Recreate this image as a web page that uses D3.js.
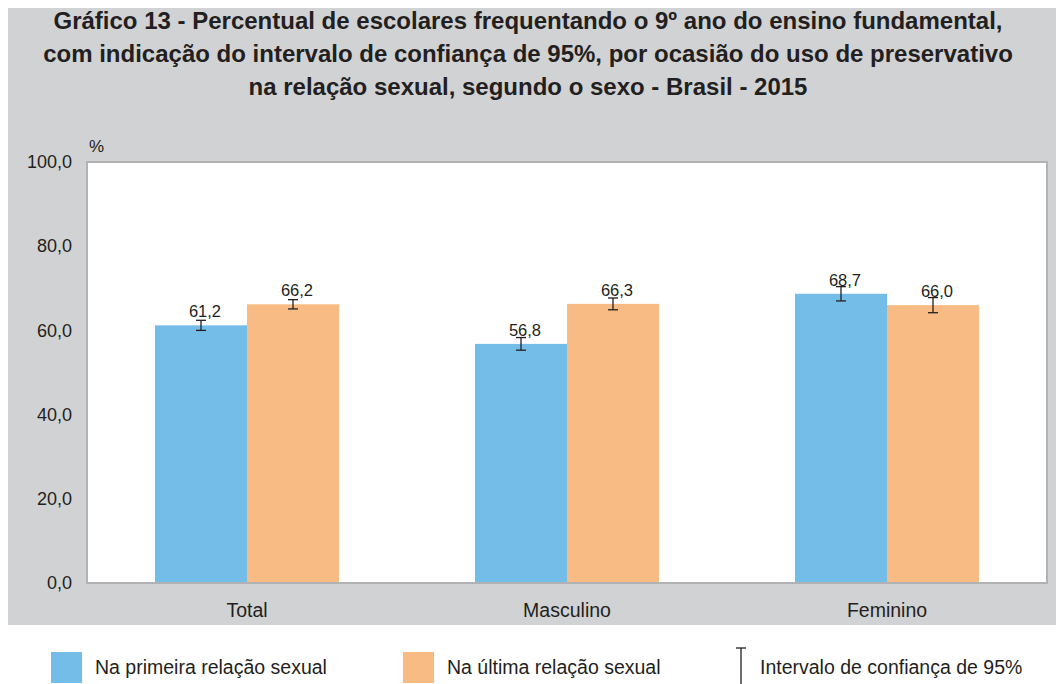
<!DOCTYPE html>
<html>
<head>
<meta charset="UTF-8">
<title>Gráfico 13</title>
<script src="https://cdnjs.cloudflare.com/ajax/libs/d3/7.8.5/d3.min.js"></script>
<style>
  body { margin: 0; background: #fff; }
  text { font-family: "Liberation Sans", Arial, sans-serif; fill: #231f20; }
</style>
</head>
<body>
<script>
// data
var categories = ["Total", "Masculino", "Feminino"];
var seriesNames = ["Na primeira relação sexual", "Na última relação sexual"];
var primeira = [61.2, 56.8, 68.7];
var primeiraLow = [60.0, 55.3, 67.0];
var primeiraHigh = [62.4, 58.3, 70.4];
var ultima = [66.2, 66.3, 66.0];
var ultimaLow = [65.1, 64.9, 64.2];
var ultimaHigh = [67.3, 67.7, 67.8];
var yTicks = [0, 20, 40, 60, 80, 100];
var titleLines = [
  "Gráfico 13 - Percentual de escolares frequentando o 9º ano do ensino fundamental,",
  "com indicação do intervalo de confiança de 95%, por ocasião do uso de preservativo",
  "na relação sexual, segundo o sexo - Brasil - 2015"
];
var ciLabel = "Intervalo de confiança de 95%";

var colors = ["#74bde8", "#f9bb84"];
var width = 1056, height = 684;
var margin = {left: 87, right: 9, top: 162, bottom: 101};

var svg = d3.select("body").append("svg")
    .attr("width", width)
    .attr("height", height);

// gray panel
svg.append("rect")
    .attr("x", 8).attr("y", 8)
    .attr("width", width - 8).attr("height", 617)
    .attr("fill", "#d1d2d4");

var x0 = d3.scaleBand()
    .domain(categories)
    .range([margin.left, width - margin.right])
    .padding(0);

// bars are 92px wide, two per 320px band, centred
var x1 = d3.scaleBand()
    .domain([0, 1])
    .range([(x0.bandwidth() - 184) / 2, (x0.bandwidth() + 184) / 2])
    .padding(0);

var y = d3.scaleLinear()
    .domain([0, 100])
    .range([height - margin.bottom, margin.top]);

// plot area
svg.append("rect")
    .attr("x", margin.left).attr("y", margin.top)
    .attr("width", width - margin.left - margin.right)
    .attr("height", y(0) - margin.top)
    .attr("fill", "#fff")
    .attr("stroke", "#b1b2b4")
    .attr("stroke-width", 2);

// y axis labels
var yAxis = d3.axisLeft(y)
    .tickValues(yTicks)
    .tickSize(0)
    .tickPadding(15)
    .tickFormat(function (d) { return d3.format(".1f")(d).replace(".", ","); });

var gy = svg.append("g")
    .attr("transform", "translate(" + margin.left + ",0)")
    .call(yAxis);
gy.select(".domain").remove();
gy.selectAll("text").style("font-size", "18px").attr("fill", "#231f20");

svg.append("text")
    .attr("x", 89).attr("y", 152)
    .style("font-size", "17px")
    .text("%");

// x axis labels
var xAxis = d3.axisBottom(x0).tickSize(0).tickPadding(20);
var gx = svg.append("g")
    .attr("transform", "translate(0," + y(0) + ")")
    .call(xAxis);
gx.select(".domain").remove();
gx.selectAll("text").style("font-size", "19.5px").attr("fill", "#231f20");

// bars
var rows = categories.map(function (c, i) {
  return [
    {cat: c, s: 0, v: primeira[i], lo: primeiraLow[i], hi: primeiraHigh[i]},
    {cat: c, s: 1, v: ultima[i], lo: ultimaLow[i], hi: ultimaHigh[i]}
  ];
});

var groups = svg.selectAll("g.cat")
    .data(rows)
    .enter().append("g")
    .attr("class", "cat")
    .attr("transform", function (d) { return "translate(" + x0(d[0].cat) + ",0)"; });

groups.selectAll("rect")
    .data(function (d) { return d; })
    .enter().append("rect")
    .attr("x", function (d) { return x1(d.s); })
    .attr("width", x1.bandwidth())
    .attr("y", function (d) { return y(d.v); })
    .attr("height", function (d) { return y(0) - y(d.v); })
    .attr("fill", function (d) { return colors[d.s]; });

// baseline redrawn on top of bars
svg.append("line")
    .attr("x1", margin.left).attr("x2", width - margin.right)
    .attr("y1", y(0)).attr("y2", y(0))
    .attr("stroke", "#b1b2b4").attr("stroke-width", 2);

// error bars
var err = groups.selectAll("g.err")
    .data(function (d) { return d; })
    .enter().append("g")
    .attr("class", "err")
    .attr("stroke", "#231f20")
    .attr("stroke-width", 1.3);
function cx(d) { return x1(d.s) + x1.bandwidth() / 2; }
err.append("line")
    .attr("x1", cx).attr("x2", cx)
    .attr("y1", function (d) { return y(d.lo); })
    .attr("y2", function (d) { return y(d.hi); });
err.append("line")
    .attr("x1", function (d) { return cx(d) - 5; })
    .attr("x2", function (d) { return cx(d) + 5; })
    .attr("y1", function (d) { return y(d.lo); })
    .attr("y2", function (d) { return y(d.lo); });
err.append("line")
    .attr("x1", function (d) { return cx(d) - 5; })
    .attr("x2", function (d) { return cx(d) + 5; })
    .attr("y1", function (d) { return y(d.hi); })
    .attr("y2", function (d) { return y(d.hi); });

// value labels (sit slightly right of the bar centre in the original)
groups.selectAll("text.val")
    .data(function (d) { return d; })
    .enter().append("text")
    .attr("class", "val")
    .attr("x", function (d) { return cx(d) + 4; })
    .attr("y", function (d) { return y(d.v) - 8; })
    .attr("text-anchor", "middle")
    .style("font-size", "16.5px")
    .text(function (d) { return d3.format(".1f")(d.v).replace(".", ","); });

// title
svg.append("g").selectAll("text")
    .data(titleLines)
    .enter().append("text")
    .attr("x", width / 2)
    .attr("y", function (d, i) { return 29 + i * 33; })
    .attr("text-anchor", "middle")
    .style("font-size", "24px")
    .style("font-weight", "bold")
    .text(function (d) { return d; });

// legend
var legendX = [51, 403];
var leg = svg.selectAll("g.leg")
    .data(seriesNames)
    .enter().append("g")
    .attr("class", "leg")
    .attr("transform", function (d, i) { return "translate(" + legendX[i] + ",652)"; });
leg.append("rect")
    .attr("width", 31).attr("height", 31)
    .attr("fill", function (d, i) { return colors[i]; });
leg.append("text")
    .attr("x", 44).attr("y", 22)
    .style("font-size", "19.5px")
    .text(function (d) { return d; });

var ci = svg.append("g").attr("transform", "translate(741,648)");
ci.append("line").attr("x1", 0).attr("x2", 0).attr("y1", 0).attr("y2", 36)
    .attr("stroke", "#231f20").attr("stroke-width", 1.3);
ci.append("line").attr("x1", -5).attr("x2", 5).attr("y1", 0).attr("y2", 0)
    .attr("stroke", "#231f20").attr("stroke-width", 1.3);
ci.append("text")
    .attr("x", 19).attr("y", 26)
    .style("font-size", "19.5px")
    .text(ciLabel);
</script>
</body>
</html>
